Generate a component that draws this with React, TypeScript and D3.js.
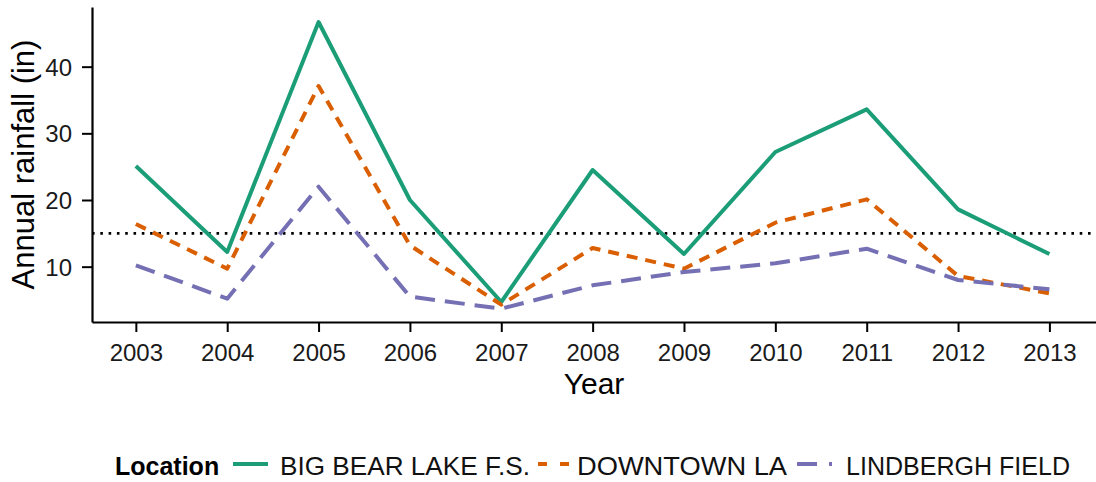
import React, { useEffect, useRef } from 'react';
import * as d3 from 'd3';

// Annual rainfall (inches) by year
const years = [2003, 2004, 2005, 2006, 2007, 2008, 2009, 2010, 2011, 2012, 2013];
const bigBear = [25.1, 12.2, 46.7, 20.0, 4.7, 24.5, 11.9, 27.2, 33.6, 18.6, 11.9];
const downtownLA = [16.4, 9.7, 37.1, 13.2, 4.3, 12.8, 9.7, 16.6, 20.1, 8.6, 6.0];
const lindbergh = [10.2, 5.2, 22.0, 5.5, 3.7, 7.2, 9.2, 10.5, 12.7, 8.0, 6.6];
const yTicks = [10, 20, 30, 40];
const threshold = 15;

const locations = ['BIG BEAR LAKE F.S.', 'DOWNTOWN LA', 'LINDBERGH FIELD'];
const colors = ['#1b9e77', '#d95f02', '#7570b3'];
const dashes = [null, '11 8', '20 10'];
const legendDashes = [null, '9 13', '20 12'];

const WIDTH = 1096;
const HEIGHT = 482;
const LEFT = 92;
const RIGHT = 1096;
const TOP = 7;
const BOTTOM = 322;
const FONT = '"Liberation Sans", Arial, sans-serif';

export default function App() {
  const ref = useRef<SVGSVGElement>(null);

  useEffect(() => {
    const svg = d3.select(ref.current);
    svg.selectAll('*').remove();

    const x = d3.scaleLinear().domain([2002.52, 2013.51]).range([LEFT, RIGHT]);
    const y = d3.scaleLinear().domain([1.7, 48.95]).range([BOTTOM, TOP]);

    // dotted reference line
    svg.append('line')
      .attr('x1', LEFT).attr('x2', RIGHT)
      .attr('y1', y(threshold)).attr('y2', y(threshold))
      .attr('stroke', '#000')
      .attr('stroke-width', 2.6)
      .attr('stroke-dasharray', '2.6 5.7');

    const line = d3.line<number>()
      .x((d, i) => x(years[i]))
      .y((d) => y(d));

    const series = [bigBear, downtownLA, lindbergh];
    series.forEach((values, k) => {
      svg.append('path')
        .datum(values)
        .attr('d', line)
        .attr('fill', 'none')
        .attr('stroke', colors[k])
        .attr('stroke-width', 4)
        .attr('stroke-dasharray', dashes[k])
        .attr('stroke-linejoin', 'round');
    });

    // axes
    const xAxis = d3.axisBottom(x).tickValues(years).tickFormat(d3.format('d')).tickSize(10).tickSizeOuter(0);
    const gx = svg.append('g')
      .attr('transform', `translate(0,${BOTTOM})`)
      .call(xAxis);
    gx.select('.domain').attr('stroke', '#000').attr('stroke-width', 2.2);
    gx.selectAll('.tick line').attr('stroke', '#000').attr('stroke-width', 2);
    gx.selectAll('.tick text')
      .attr('y', 39)
      .attr('dy', null)
      .attr('fill', '#1a1a1a')
      .attr('font-size', 24)
      .attr('font-family', FONT);

    const yAxis = d3.axisLeft(y).tickValues(yTicks).tickSize(10).tickSizeOuter(0);
    const gy = svg.append('g')
      .attr('transform', `translate(${LEFT},0)`)
      .call(yAxis);
    gy.select('.domain').attr('stroke', '#000').attr('stroke-width', 2.2);
    gy.selectAll('.tick line').attr('stroke', '#000').attr('stroke-width', 2);
    gy.selectAll('.tick text')
      .attr('x', -20)
      .attr('dy', '0.36em')
      .attr('fill', '#1a1a1a')
      .attr('font-size', 24)
      .attr('font-family', FONT);

    // axis titles
    svg.append('text')
      .attr('x', (LEFT + RIGHT) / 2)
      .attr('y', 394)
      .attr('text-anchor', 'middle')
      .attr('font-size', 30)
      .attr('font-family', FONT)
      .attr('fill', '#000')
      .text('Year');

    svg.append('text')
      .attr('transform', `translate(34,${(TOP + BOTTOM) / 2}) rotate(-90)`)
      .attr('text-anchor', 'middle')
      .attr('font-size', 31)
      .attr('font-family', FONT)
      .attr('fill', '#000')
      .text('Annual rainfall (in)');

    // legend
    const legendY = 475;
    svg.append('text')
      .attr('x', 115).attr('y', legendY)
      .attr('font-size', 25)
      .attr('font-weight', 'bold')
      .attr('font-family', FONT)
      .attr('fill', '#000')
      .text('Location');

    const keyX = [233, 538, 797];
    const labelX = [280, 577, 846];
    const labelW = [250, 210, 224];
    locations.forEach((name, k) => {
      svg.append('line')
        .attr('x1', keyX[k]).attr('x2', keyX[k] + 35)
        .attr('y1', legendY - 11).attr('y2', legendY - 11)
        .attr('stroke', colors[k])
        .attr('stroke-width', 4)
        .attr('stroke-dasharray', legendDashes[k]);
      svg.append('text')
        .attr('x', labelX[k]).attr('y', legendY)
        .attr('font-size', 26)
        .attr('font-family', FONT)
        .attr('fill', '#111')
        .attr('textLength', labelW[k])
        .attr('lengthAdjust', 'spacingAndGlyphs')
        .text(name);
    });
  }, []);

  return (
    <svg
      ref={ref}
      width={WIDTH}
      height={HEIGHT}
      style={{ position: 'absolute', left: 0, top: 0, background: '#fff' }}
    />
  );
}
